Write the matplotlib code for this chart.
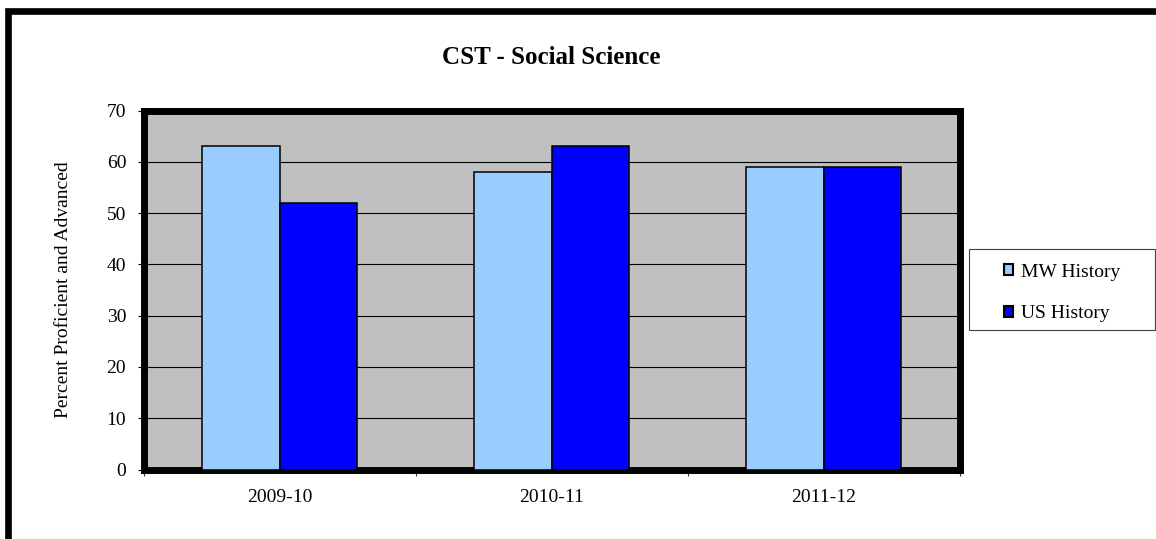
import matplotlib.pyplot as plt
import numpy as np
from matplotlib.patches import Rectangle, Patch

# Chart data
years = ['2009-10', '2010-11', '2011-12']
mw_history = [63, 58, 59]
us_history = [52, 63, 59]
y_ticks = [0, 10, 20, 30, 40, 50, 60, 70]

plt.rcParams['font.family'] = ['Liberation Serif', 'DejaVu Serif']

W, H = 1156, 539
fig = plt.figure(figsize=(W / 100, H / 100), dpi=100)
fig.patch.set_facecolor('white')

# Outer chart frame (cut off at right and bottom like the source)
frame = Rectangle((8 / W, -0.2), 1.5, 1.2 - 10.5 / H, transform=fig.transFigure,
                  fill=False, edgecolor='black', linewidth=4.8, clip_on=False)
fig.patches.append(frame)

# Plot area
ax = fig.add_axes([143.5 / W, 1 - 469.5 / H, 816 / W, 359 / H])
ax.set_facecolor('#C0C0C0')

x = np.arange(len(years))
width = 0.2857
ax.bar(x - width / 2, mw_history, width, color='#99CCFF', edgecolor='black',
       linewidth=1.1, label='MW History', zorder=3)
ax.bar(x + width / 2, us_history, width, color='#0000FF', edgecolor='black',
       linewidth=1.1, label='US History', zorder=3)

ax.set_xlim(-0.5, len(years) - 0.5)
ax.set_ylim(0, 70)
ax.set_yticks(y_ticks)
ax.yaxis.grid(True, color='black', linewidth=0.8, zorder=1)
ax.set_axisbelow(True)

# category boundaries get the tick marks, labels sit in the middle
ax.set_xticks(np.arange(-0.5, len(years)), labels=[''] * (len(years) + 1))
ax.set_xticks(x, labels=years, minor=True)
ax.tick_params(axis='x', which='major', direction='out', length=4.5, width=0.8, color='#333333')
ax.tick_params(axis='x', which='minor', length=0, pad=14, labelsize=14)
ax.tick_params(axis='y', direction='out', length=4.5, width=0.8, pad=8, labelsize=14)

for s in ax.spines.values():
    s.set_linewidth(5)
    s.set_color('black')

# Title and y label
fig.text(551 / W, 1 - 57 / H, 'CST - Social Science', ha='center', va='center',
         fontsize=18, fontweight='bold')
fig.text(63 / W, 1 - 290 / H, 'Percent Proficient and Advanced', ha='center',
         va='center', rotation=90, fontsize=14)

# Legend box drawn separately, entries centred inside it
legbox = Rectangle((969 / W, 1 - 330 / H), 186 / W, 81 / H, transform=fig.transFigure,
                   facecolor='white', edgecolor='#404040', linewidth=0.8)
fig.patches.append(legbox)

handles = [Patch(facecolor='#99CCFF', edgecolor='black', linewidth=1.5),
           Patch(facecolor='#0000FF', edgecolor='black', linewidth=1.5)]
leg = fig.legend(handles, ['MW History', 'US History'], loc='center',
                 bbox_to_anchor=(1062 / W, 1 - 293 / H),
                 fontsize=14, frameon=False, handlelength=0.5,
                 handleheight=0.5, handletextpad=0.4, labelspacing=1.25,
                 borderpad=0, borderaxespad=0)

plt.savefig('out.png', dpi=100)
